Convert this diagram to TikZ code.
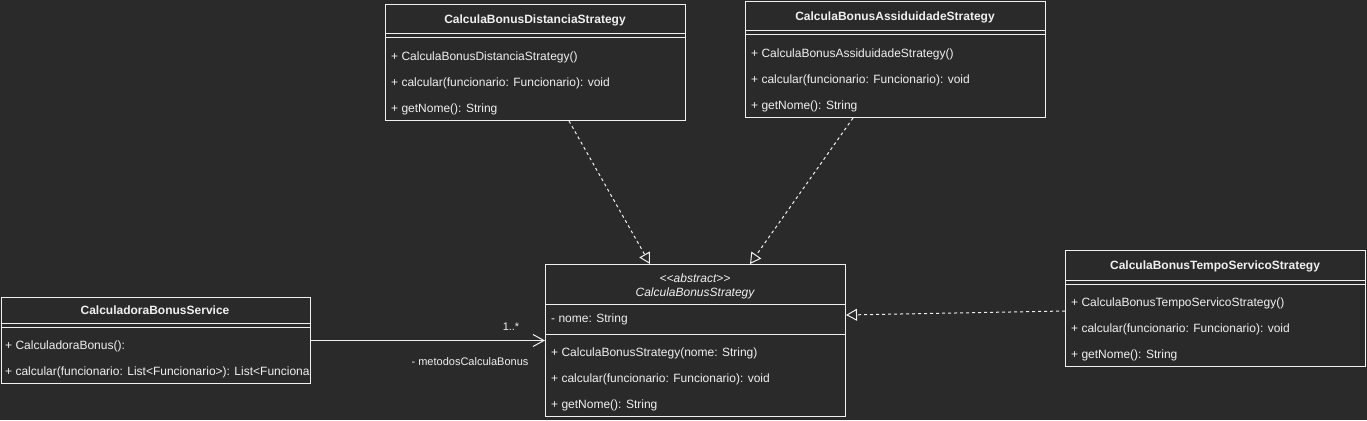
\documentclass[tikz,border=0pt]{standalone}
\usepackage{fontspec}
\setmainfont{Liberation Sans}
\usetikzlibrary{arrows.meta,calc}
\definecolor{bg}{HTML}{2A2A2A}
\definecolor{fg}{HTML}{F0F0F0}
\begin{document}
\begin{tikzpicture}[x=1pt,y=-1pt,
  box/.style={draw=fg, fill=bg, line width=1pt, anchor=north west, inner sep=0pt, minimum width=300pt},
  ctitle/.style={text=fg, font=\fontsize{12}{14}\selectfont\bfseries, inner sep=0pt, anchor=base},
  ititle/.style={text=fg, font=\fontsize{12}{14}\selectfont\itshape, inner sep=0pt, anchor=base},
  row/.style={text=fg, font=\fontsize{12}{14}\selectfont, anchor=base west, inner sep=0pt},
  lbl/.style={text=fg, font=\fontsize{11}{13}\selectfont, inner sep=0pt},
  sepline/.style={draw=fg, line width=1pt},
  dep/.style={draw=fg, line width=1pt, dash pattern=on 3pt off 3pt, -{Triangle[open, length=11pt, width=12pt, fill=bg, line width=1pt]}},
  assoc/.style={draw=fg, line width=1pt, -{Straight Barb[length=11pt, width=12pt, line width=1pt]}},
]
\fill[bg] (0,0) rectangle (1367,420);
\useasboundingbox (0,0) rectangle (1367,420);

% CalculaBonusDistanciaStrategy
\node[box, minimum height=116pt] (dist) at (385,4) {};
\node[ctitle] (distT) at (535,23.5) {CalculaBonusDistanciaStrategy};
\draw[sepline] (385,34) -- (685,34);
\draw[sepline] (385,38) -- (685,38);
\node[row] (dist1) at (391,60.5) {+ CalculaBonusDistanciaStrategy()};
\node[row] (dist2) at (391,86.5) {+ calcular(funcionario: Funcionario): void};
\node[row] (dist3) at (391,112.5) {+ getNome(): String};

% CalculaBonusAssiduidadeStrategy
\node[box, minimum height=116pt] (assid) at (745,1) {};
\node[ctitle] (assidT) at (895,20.5) {CalculaBonusAssiduidadeStrategy};
\draw[sepline] (745,31) -- (1045,31);
\draw[sepline] (745,35) -- (1045,35);
\node[row] (assid1) at (751,57.5) {+ CalculaBonusAssiduidadeStrategy()};
\node[row] (assid2) at (751,83.5) {+ calcular(funcionario: Funcionario): void};
\node[row] (assid3) at (751,109.5) {+ getNome(): String};

% CalculaBonusStrategy (abstract)
\node[box, minimum height=152pt] (abs) at (545,264) {};
\node[ititle] (absS) at (695,282) {<{}<abstract>{}>};
\node[ititle] (absT) at (695,296.5) {CalculaBonusStrategy};
\draw[sepline] (545,304) -- (845,304);
\node[row] (abs0) at (551,322.5) {- nome: String};
\draw[sepline] (545,334) -- (845,334);
\node[row] (abs1) at (551,356.5) {+ CalculaBonusStrategy(nome: String)};
\node[row] (abs2) at (551,382.5) {+ calcular(funcionario: Funcionario): void};
\node[row] (abs3) at (551,408.5) {+ getNome(): String};

% CalculaBonusTempoServicoStrategy
\node[box, minimum height=116pt] (tempo) at (1065,250) {};
\node[ctitle] (tempoT) at (1215,269.5) {CalculaBonusTempoServicoStrategy};
\draw[sepline] (1065,280) -- (1365,280);
\draw[sepline] (1065,284) -- (1365,284);
\node[row] (tempo1) at (1071,306.5) {+ CalculaBonusTempoServicoStrategy()};
\node[row] (tempo2) at (1071,332.5) {+ calcular(funcionario: Funcionario): void};
\node[row] (tempo3) at (1071,358.5) {+ getNome(): String};

% CalculadoraBonusService
\node[box, minimum width=309.5pt, minimum height=86pt] (calc) at (0.5,297) {};
\node[ctitle] (calcT) at (155,314.5) {CalculadoraBonusService};
\draw[sepline] (0.5,323) -- (310,323);
\draw[sepline] (0.5,327) -- (310,327);
\begin{scope}
\clip (0.5,297) rectangle (309.5,383);
\node[row] (calc1) at (5,349.5) {+ CalculadoraBonus():};
\node[row] (calc2) at (5,375.5) {+ calcular(funcionario: List<Funcionario>): List<Funciona};
\end{scope}

% connectors
\draw[dep] ([xshift=184pt]dist.south west) -- ([xshift=105pt]abs.north west);
\draw[dep] ([xshift=108pt]assid.south west) -- ([xshift=205pt]abs.north west);
\draw[dep] ([yshift=-61pt]tempo.north west) -- ([yshift=-51pt]abs.north east);
\draw[assoc] (calc.east) -- (calc.east -| abs.west);
\node[lbl] (mult) at (511,327) {1..*};
\node[lbl] (role) at (470,362) {- metodosCalculaBonus};
\end{tikzpicture}
\end{document}
